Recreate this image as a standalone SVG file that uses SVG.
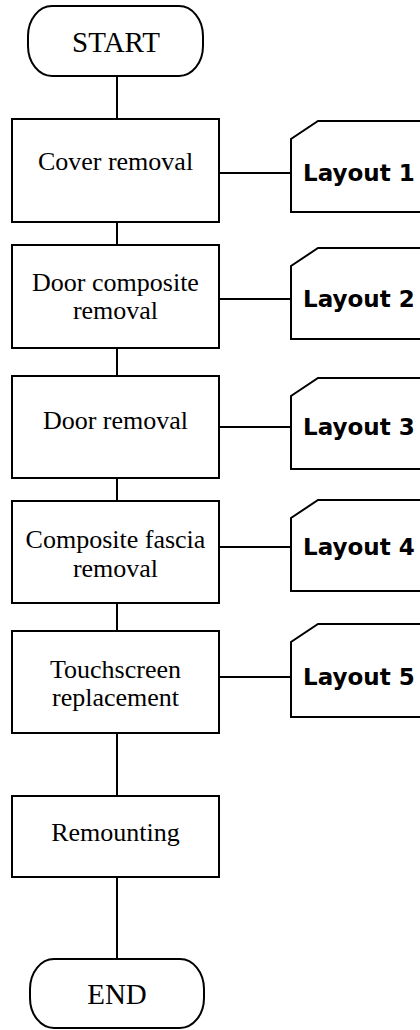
<svg xmlns="http://www.w3.org/2000/svg" width="420" height="1030" viewBox="0 0 420 1030">
<style>
.s{fill:#fff;stroke:#000;stroke-width:2}
.t{font-family:"Liberation Serif","Times New Roman",serif;font-size:26px;fill:#000;text-anchor:middle}
.tt{font-family:"Liberation Serif","Times New Roman",serif;font-size:29px;fill:#000;text-anchor:middle}
.l{font-family:"DejaVu Sans",Verdana,sans-serif;font-weight:bold;font-size:23px;fill:#000}
.c{stroke:#000;stroke-width:2;fill:none}
</style>
<rect width="420" height="1030" fill="#fff"/>
<g id="connectors">
<path class="c" d="M117 76V119M117 222V245M117 348V376M117 478V501M117 603V631M117 733V796M117 877V959"/>
<path class="c" d="M219 173H291M219 299H291M219 427H291M219 547H291M219 677H291"/>
</g>
<g id="start"><rect class="s" x="28" y="6" width="175" height="70" rx="24" ry="30"/><text class="tt" x="116" y="52">START</text></g>
<g id="n1"><rect class="s" x="12" y="119" width="207" height="103"/><text class="t" x="115.5" y="170">Cover removal</text></g>
<g id="n2"><rect class="s" x="12" y="245" width="207" height="103"/><text class="t" x="115.5" y="291">Door composite</text><text class="t" x="115.5" y="319">removal</text></g>
<g id="n3"><rect class="s" x="12" y="376" width="207" height="102"/><text class="t" x="115.5" y="429">Door removal</text></g>
<g id="n4"><rect class="s" x="12" y="501" width="207" height="102"/><text class="t" x="115.5" y="548">Composite fascia</text><text class="t" x="115.5" y="577">removal</text></g>
<g id="n5"><rect class="s" x="12" y="631" width="207" height="102"/><text class="t" x="115.5" y="678">Touchscreen</text><text class="t" x="115.5" y="706">replacement</text></g>
<g id="n6"><rect class="s" x="12" y="796" width="207" height="81"/><text class="t" x="115.5" y="841">Remounting</text></g>
<g id="end"><rect class="s" x="30" y="959" width="174" height="69" rx="24" ry="30"/><text class="tt" x="117" y="1004">END</text></g>
<g id="layout1"><path class="s" d="M430 121H318L291 139V212H430"/><text class="l" x="303" y="181">Layout 1</text></g>
<g id="layout2"><path class="s" d="M430 248H318L291 266V339H430"/><text class="l" x="303" y="307">Layout 2</text></g>
<g id="layout3"><path class="s" d="M430 378H318L291 396V469H430"/><text class="l" x="303" y="435">Layout 3</text></g>
<g id="layout4"><path class="s" d="M430 500H318L291 518V591H430"/><text class="l" x="303" y="555">Layout 4</text></g>
<g id="layout5"><path class="s" d="M430 624H318L291 642V717H430"/><text class="l" x="303" y="685">Layout 5</text></g>
</svg>
